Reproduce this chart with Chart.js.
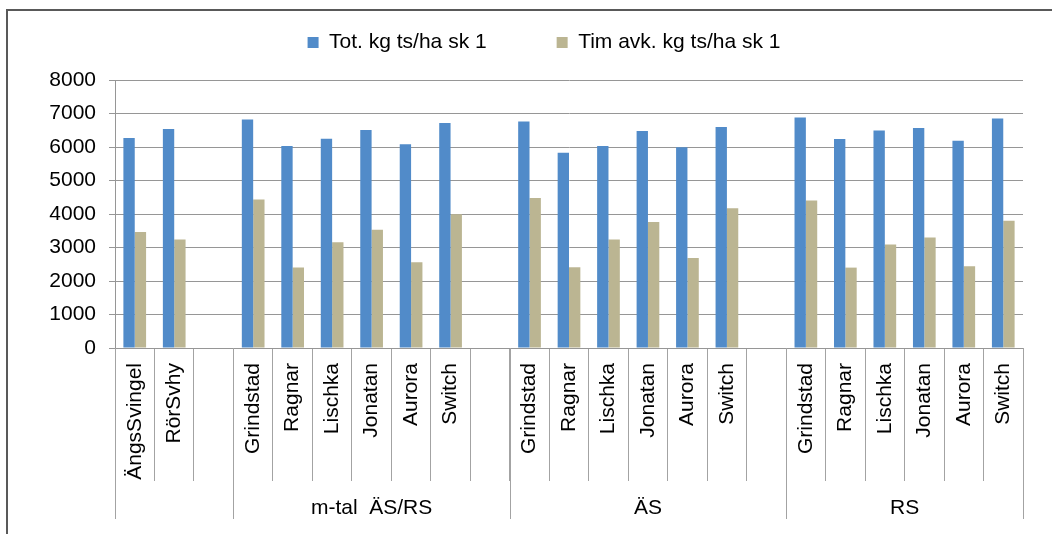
<!DOCTYPE html>
<html>
<head>
<meta charset="utf-8">
<script src="https://cdn.jsdelivr.net/npm/chart.js@4.4.1/dist/chart.umd.min.js"></script>
<style>
  body { margin: 0; background: #fff; }
</style>
</head>
<body>
<canvas id="myChart" width="1052" height="534"></canvas>
<script>
// chart values
const categories = ['ÄngsSvingel', 'RörSvhy', '',
  'Grindstad', 'Ragnar', 'Lischka', 'Jonatan', 'Aurora', 'Switch', '',
  'Grindstad', 'Ragnar', 'Lischka', 'Jonatan', 'Aurora', 'Switch', '',
  'Grindstad', 'Ragnar', 'Lischka', 'Jonatan', 'Aurora', 'Switch'];
const totKg = [6270, 6540, null,
  6820, 6030, 6250, 6510, 6080, 6720, null,
  6760, 5830, 6030, 6480, 5990, 6600, null,
  6880, 6240, 6490, 6570, 6190, 6850];
const timAvk = [3460, 3240, null,
  4430, 2400, 3160, 3530, 2560, 3990, null,
  4480, 2410, 3240, 3760, 2690, 4170, null,
  4400, 2400, 3090, 3300, 2440, 3800];
const groupNames = ['', 'm-tal  ÄS/RS', 'ÄS', 'RS'];
const groupSizes = [3, 7, 7, 6];
const seriesNames = ['Tot. kg ts/ha sk 1', 'Tim avk. kg ts/ha sk 1'];

const FONT = "'Liberation Sans', Arial, sans-serif";

// second row of category labels + outer frame
const groupRow = {
  id: 'groupRow',
  afterDraw(chart) {
    const ctx = chart.ctx;
    const x = chart.scales.x;
    const half = (x.getPixelForValue(1) - x.getPixelForValue(0)) / 2;
    const bottom = chart.chartArea.bottom;
    ctx.save();
    ctx.strokeStyle = '#a3a3a3';
    ctx.lineWidth = 1;
    ctx.fillStyle = '#000';
    ctx.font = '21px ' + FONT;
    ctx.textAlign = 'center';
    ctx.textBaseline = 'middle';
    let start = 0;
    let edges = [Math.round(x.getPixelForValue(0) - half) + 0.5];
    groupSizes.forEach((n, g) => {
      const left = x.getPixelForValue(start) - half;
      const right = x.getPixelForValue(start + n - 1) + half;
      edges.push(Math.round(right) + 0.5);
      ctx.fillText(groupNames[g], (left + right) / 2, 508);
      start += n;
    });
    edges.forEach(e => {
      ctx.beginPath();
      ctx.moveTo(e, bottom);
      ctx.lineTo(e, 519);
      ctx.stroke();
    });
    // frame
    ctx.strokeStyle = '#595959';
    ctx.lineWidth = 2;
    ctx.beginPath();
    ctx.moveTo(7, 534);
    ctx.lineTo(7, 10);
    ctx.lineTo(1052, 10);
    ctx.stroke();
    ctx.restore();
  }
};

const ctx = document.getElementById('myChart').getContext('2d');
const myChart = new Chart(ctx, {
  type: 'bar',
  data: {
    labels: categories,
    datasets: [{
      label: seriesNames[0],
      data: totKg,
      yAxisID: 'y',
      backgroundColor: '#518BC9',
      categoryPercentage: 0.575,
      barPercentage: 1
    }, {
      label: seriesNames[1],
      data: timAvk,
      yAxisID: 'y',
      backgroundColor: '#BBB592',
      categoryPercentage: 0.575,
      barPercentage: 1
    }]
  },
  options: {
    responsive: false,
    animation: false,
    devicePixelRatio: 1,
    layout: {
      padding: { top: -38, left: 45, right: 9, bottom: 0 }
    },
    plugins: {
      legend: {
        position: 'top',
        labels: {
          boxWidth: 11,
          boxHeight: 11,
          padding: 70,
          color: '#000',
          font: { family: FONT, size: 21 }
        }
      },
      tooltip: { enabled: false }
    },
    scales: {
      x: {
        grid: {
          drawOnChartArea: false,
          tickLength: 133,
          color: '#a3a3a3'
        },
        border: { color: '#969696' },
        ticks: {
          autoSkip: false,
          minRotation: 90,
          maxRotation: 90,
          padding: -118,
          color: '#000',
          font: { family: FONT, size: 21 }
        },
        afterFit(scale) { scale.height = 186; }
      },
      // spacer between legend and plot area
      x2: {
        position: 'top',
        grid: { display: false },
        border: { display: false },
        ticks: { display: false },
        afterFit(scale) { scale.height = 17; }
      },
      y: {
        min: 0,
        max: 8000,
        ticks: {
          stepSize: 1000,
          padding: 13,
          color: '#000',
          font: { family: FONT, size: 21 },
          callback: (value) => String(value)
        },
        grid: {
          color: '#969696',
          tickLength: 6
        },
        border: { color: '#969696' },
        afterFit(scale) { scale.width = 70; }
      },
      // spacer on the right so the legend sits where it does in the original
      y2: {
        position: 'right',
        grid: { display: false },
        border: { display: false },
        ticks: { display: false },
        afterFit(scale) { scale.width = 20; }
      }
    }
  },
  plugins: [groupRow]
});
</script>
</body>
</html>
